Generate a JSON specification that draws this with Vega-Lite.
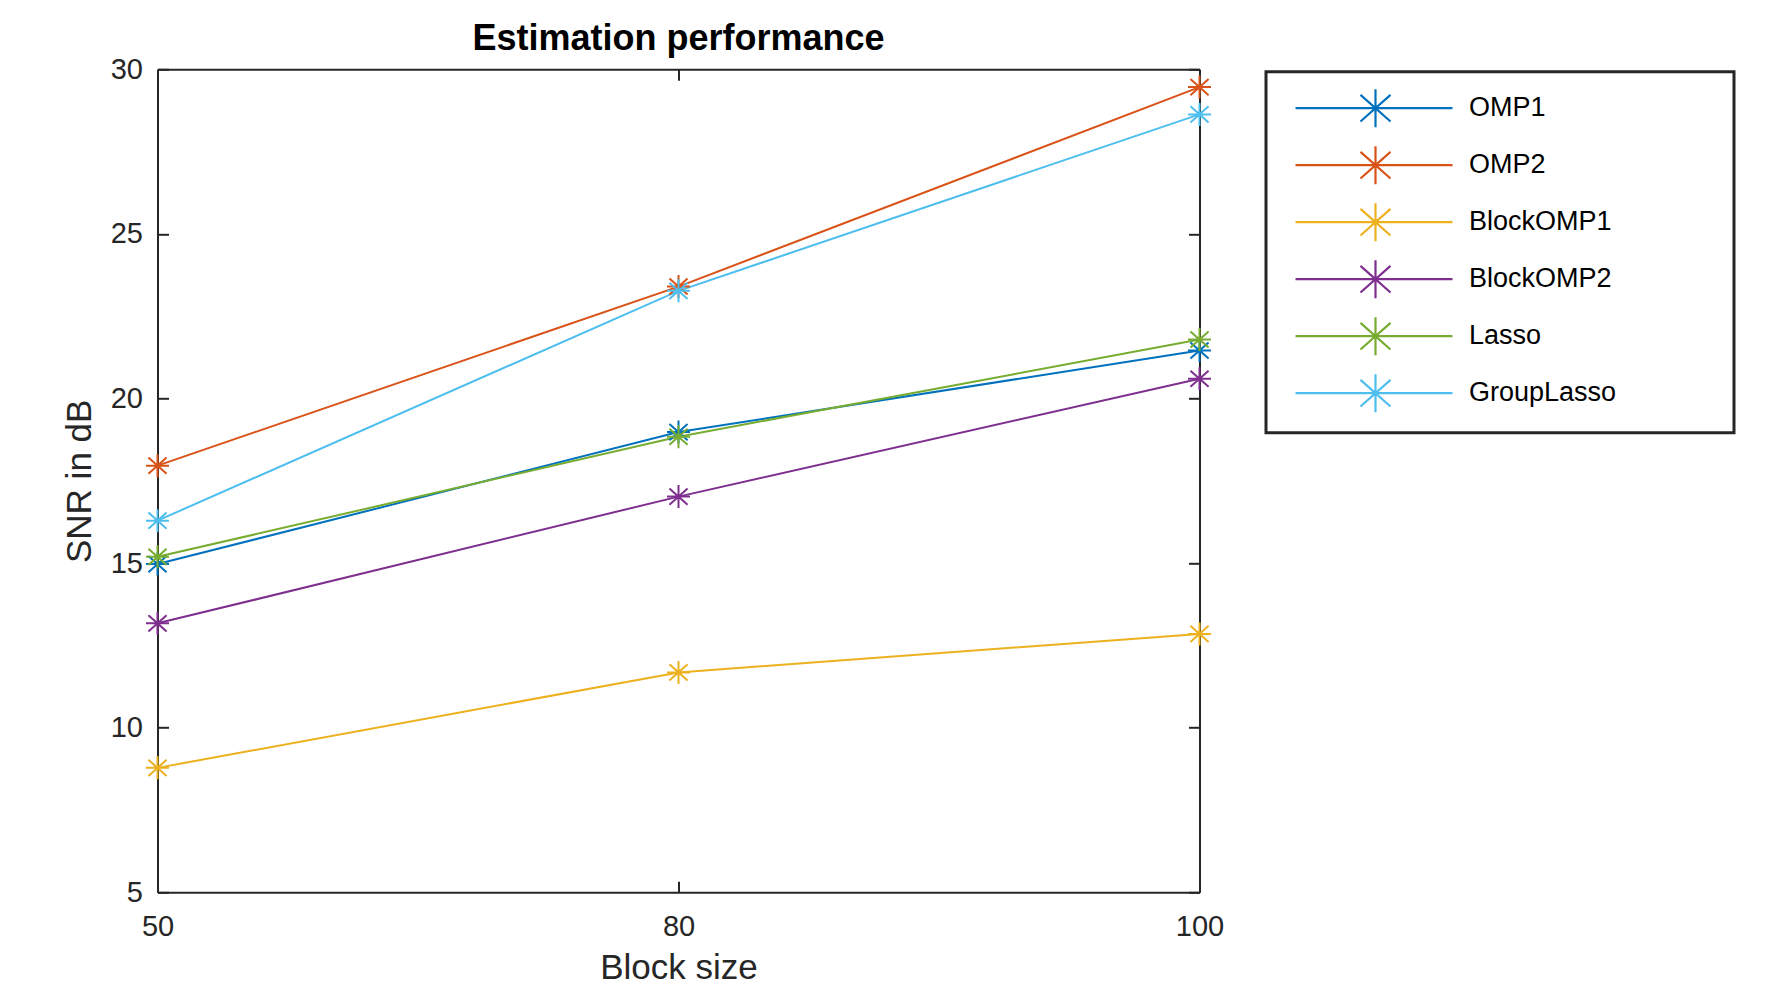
{
  "$schema": "https://vega.github.io/schema/vega-lite/v6.json",
  "width": 1042,
  "height": 823,
  "autosize": {"type": "none"},
  "padding": {"left": 157.5, "top": 69.3, "right": 570.5, "bottom": 93.7},
  "background": "white",
  "title": {
    "text": "Estimation performance",
    "font": "Liberation Sans",
    "fontSize": 36,
    "fontWeight": "bold",
    "color": "#000000",
    "anchor": "middle",
    "baseline": "alphabetic",
    "offset": 21,
    "dy": 52
  },
  "data": {
    "values": [
      {"Block": 50, "Method": "OMP1", "SNR": 14.97},
      {"Block": 80, "Method": "OMP1", "SNR": 18.98},
      {"Block": 100, "Method": "OMP1", "SNR": 21.46},
      {"Block": 50, "Method": "OMP2", "SNR": 17.96},
      {"Block": 80, "Method": "OMP2", "SNR": 23.4},
      {"Block": 100, "Method": "OMP2", "SNR": 29.46},
      {"Block": 50, "Method": "BlockOMP1", "SNR": 8.78},
      {"Block": 80, "Method": "BlockOMP1", "SNR": 11.68},
      {"Block": 100, "Method": "BlockOMP1", "SNR": 12.85},
      {"Block": 50, "Method": "BlockOMP2", "SNR": 13.17},
      {"Block": 80, "Method": "BlockOMP2", "SNR": 17.02},
      {"Block": 100, "Method": "BlockOMP2", "SNR": 20.6},
      {"Block": 50, "Method": "Lasso", "SNR": 15.19},
      {"Block": 80, "Method": "Lasso", "SNR": 18.84},
      {"Block": 100, "Method": "Lasso", "SNR": 21.79},
      {"Block": 50, "Method": "GroupLasso", "SNR": 16.29},
      {"Block": 80, "Method": "GroupLasso", "SNR": 23.27},
      {"Block": 100, "Method": "GroupLasso", "SNR": 28.63}
    ]
  },
  "layer": [
    {
      "mark": {"type": "line", "strokeWidth": 2},
      "encoding": {
        "x": {
          "field": "Block", "type": "ordinal",
          "scale": {"type": "point", "padding": 0},
          "axis": {
            "orient": "bottom", "title": "Block size", "labelAngle": 0,
            "tickSize": -11, "labelPadding": 31, "labelFontSize": 29,
            "titleFontSize": 35, "titleY": 86, "titleBaseline": "alphabetic"
          }
        },
        "y": {
          "field": "SNR", "type": "quantitative",
          "scale": {"domain": [5, 30], "nice": false, "zero": false},
          "axis": {
            "orient": "left", "title": "SNR in dB", "values": [5, 10, 15, 20, 25, 30],
            "tickSize": -11, "labelPadding": 26, "labelFontSize": 29,
            "titleFontSize": 35, "titleX": -67, "titleBaseline": "alphabetic"
          }
        },
        "color": {
          "field": "Method", "type": "nominal",
          "scale": {
            "domain": ["OMP1", "OMP2", "BlockOMP1", "BlockOMP2", "Lasso", "GroupLasso"],
            "range": ["#0072BD", "#D95319", "#EDB120", "#7E2F8E", "#77AC30", "#4DBEEE"]
          },
          "legend": {
            "title": null, "orient": "none", "legendX": 1108.5, "legendY": 2.4,
            "symbolType": "M-1,0M-0.368,0L7.895,0M3.842,-1L3.842,1M3.052,-0.7L4.632,0.7M3.052,0.7L4.632,-0.7M21.6,0",
            "symbolSize": 1444, "symbolStrokeWidth": 2.2,
            "labelFont": "Liberation Sans", "labelFontSize": 27, "labelColor": "#000000", "labelLimit": 300,
            "labelOffset": 146, "padding": 16, "rowPadding": 10,
            "strokeColor": "#262626", "fillColor": "#ffffff",
            "encode": {
              "symbols": {"update": {"fill": {"value": "transparent"}}},
              "legend": {"update": {"strokeWidth": {"value": 3}, "stroke": {"value": "#262626"}}}
            }
          }
        }
      }
    },
    {
      "mark": {
        "type": "point",
        "shape": "M0,-1L0,1M-1,0L1,0M-0.79,-0.7L0.79,0.7M-0.79,0.7L0.79,-0.7",
        "filled": false, "strokeWidth": 2, "size": 529, "opacity": 1
      },
      "encoding": {
        "x": {"field": "Block", "type": "ordinal", "axis": null},
        "y": {"field": "SNR", "type": "quantitative", "axis": null},
        "color": {"field": "Method", "type": "nominal"}
      }
    },
    {
      "mark": {"type": "point", "opacity": 0},
      "encoding": {
        "x": {
          "field": "Block", "type": "ordinal",
          "axis": {"orient": "top", "labels": false, "title": null, "tickSize": -11}
        },
        "y": {
          "field": "SNR", "type": "quantitative",
          "axis": {"orient": "right", "labels": false, "title": null, "tickSize": -11, "values": [5, 10, 15, 20, 25, 30]}
        }
      }
    }
  ],
  "resolve": {"axis": {"x": "independent", "y": "independent"}},
  "config": {
    "view": {"stroke": null},
    "font": "Liberation Sans",
    "axis": {
      "grid": false,
      "domainColor": "#262626", "domainWidth": 2,
      "tickColor": "#262626", "tickWidth": 2,
      "labelColor": "#262626", "titleColor": "#262626",
      "labelFont": "Liberation Sans", "titleFont": "Liberation Sans",
      "titleFontWeight": "normal"
    }
  }
}
